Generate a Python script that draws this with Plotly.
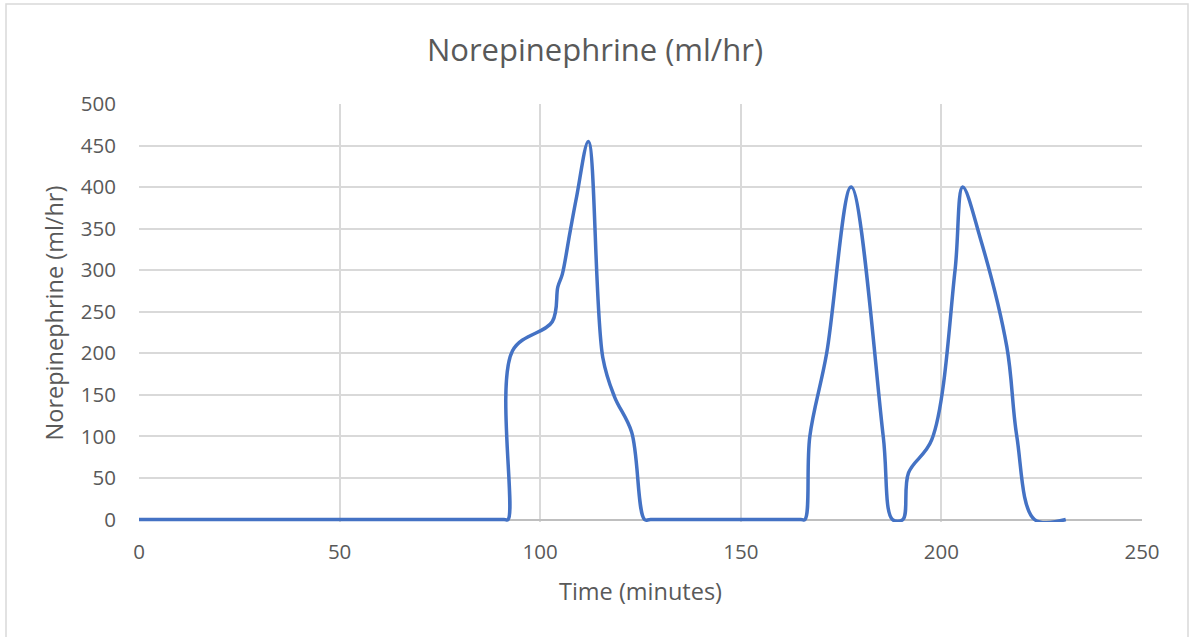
import plotly.graph_objects as go

time_min = [0, 91, 92, 93.1, 103, 104.4, 105.5, 107.4, 109.1, 112, 115.6, 118.5, 122.8, 126, 127.5,
            165, 166, 167.2, 171.4, 177.5, 185.5, 187.8, 190.4, 191.8, 197.6, 203.4, 205.3,
            209.6, 216.3, 218.8, 223.2, 231]
norepi = [0, 0, 0, 203, 238, 280, 295, 345, 389, 455, 195, 148, 105, 0, 0,
          0, 0, 100, 200, 400, 100, 0, 0, 56, 96, 300, 400,
          340, 208, 100, 0, 0]

x_ticks = [0, 50, 100, 150, 200, 250]
y_ticks = [0, 50, 100, 150, 200, 250, 300, 350, 400, 450, 500]

font_family = "Open Sans"
text_color = "#595959"
grid_color = "#d9d9d9"

# plot area: x 139..1142 px, value 0 at y=520 px, 500 at y=104 px
y_low = -3
px_per_unit = 416 / 500
bottom_px = 520 + (-y_low) * px_per_unit

fig = go.Figure()
fig.add_trace(go.Scatter(
    x=time_min, y=norepi, mode="lines",
    line=dict(color="#4472C4", width=3.5, shape="spline", smoothing=1.0),
    showlegend=False,
))

fig.update_layout(
    width=1190, height=637,
    margin=dict(l=139, r=48, t=104, b=637 - bottom_px),
    paper_bgcolor="white", plot_bgcolor="white",
    font=dict(family=font_family, color=text_color, size=20.5),
    title=dict(text="Norepinephrine (ml/hr)", x=0.5, xanchor="center",
               y=1 - 50 / 637, yanchor="middle",
               font=dict(size=31, color=text_color, family=font_family)),
    xaxis=dict(range=[0, 250], tickvals=x_ticks, showgrid=True, gridcolor=grid_color,
               gridwidth=1.5, zeroline=False, showline=False, ticks="",
               ticklabelstandoff=15, automargin=False,
               title=dict(text="Time (minutes)", standoff=20,
                          font=dict(size=23.5, color=text_color))),
    yaxis=dict(range=[y_low, 500], tickvals=y_ticks, showgrid=True, gridcolor=grid_color,
               gridwidth=1.5, zeroline=True, zerolinecolor="#bfbfbf", zerolinewidth=1.8,
               showline=False, ticks="", ticklabelstandoff=22, automargin=False,
               title=dict(text="Norepinephrine (ml/hr)", standoff=10,
                          font=dict(size=23.5, color=text_color))),
    shapes=[dict(type="rect", xref="paper", yref="paper",
                 x0=(6 - 139) / 1003, x1=(1188 - 139) / 1003,
                 y0=(bottom_px - 645) / (bottom_px - 104), y1=(bottom_px - 4) / (bottom_px - 104),
                 line=dict(color="#d9d9d9", width=1.5), fillcolor="rgba(0,0,0,0)",
                 layer="below")],
)

fig.write_html("out.html", config={"displayModeBar": False},
               post_script="document.body.style.margin='0';")
